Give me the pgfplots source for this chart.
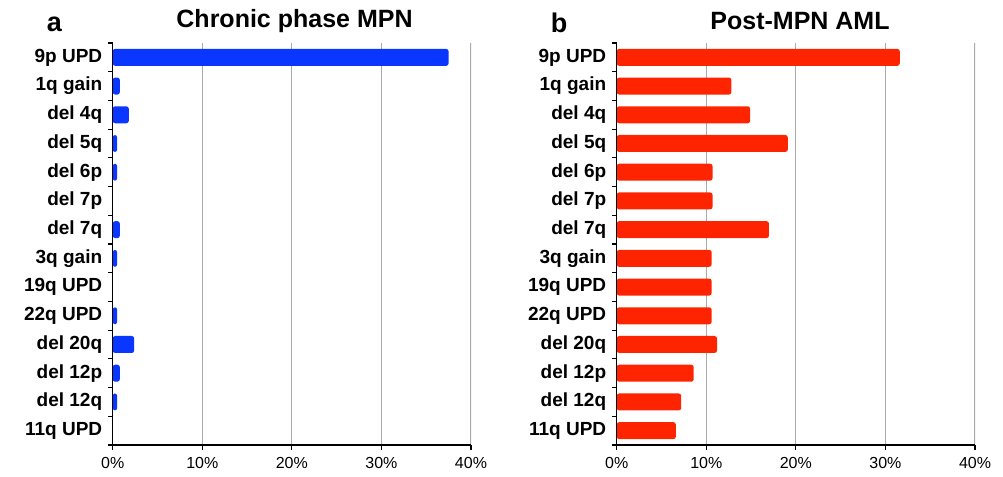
\documentclass[border=0pt]{standalone}
\usepackage{pgfplots}
\usepackage{pgfplotstable}
\pgfplotsset{compat=1.18}
\usepackage{fontspec}
\setmainfont{Liberation Sans}
\definecolor{barblue}{RGB}{10,55,255}
\definecolor{barred}{RGB}{255,36,0}
\definecolor{gridgray}{RGB}{170,170,170}

% idx 13 = top row (9p UPD) ... idx 0 = bottom row (11q UPD)
\pgfplotstableread{
idx cpm aml
13 37.5 31.6
12 0.8 12.8
11 1.8 14.9
10 0.5 19.1
9 0.5 10.7
8 0 10.7
7 0.8 17.0
6 0.5 10.6
5 0 10.6
4 0.5 10.6
3 2.4 11.2
2 0.8 8.6
1 0.5 7.2
0 0 6.6
}\datatable

\pgfplotsset{
  mpn/.style={
    anchor=south west,
    axis on top,
    scale only axis, width=358.3bp, height=402bp,
    xmin=0, xmax=40, ymin=-0.5, ymax=13.5,
    axis lines*=left,
    axis line style={-, black, line width=1.1bp},
    xtick={0,10,20,30,40},
    xticklabels={0\%,10\%,20\%,30\%,40\%},
    ytick={-0.5,0.5,...,13.5},
    yticklabels={},
    extra y ticks={0,...,13},
    extra y tick labels={11q UPD,del 12q,del 12p,del 20q,22q UPD,19q UPD,3q gain,del 7q,del 7p,del 6p,del 5q,del 4q,1q gain,9p UPD},
    extra y tick style={major tick length=0pt,
      yticklabel style={font=\fontsize{19bp}{21bp}\selectfont\bfseries, xshift=-7bp}},
    tick align=outside,
    major tick length=4.5bp,
    tick style={black, line width=1.1bp},
    grid=none,
    xticklabel style={font=\fontsize{16bp}{18bp}\selectfont, yshift=-4.5bp},
  }
}

\begin{document}
\begin{tikzpicture}
\path[use as bounding box] (0,0) rectangle (1003bp,477bp);
\begin{axis}[mpn, at={(112.7bp,32bp)}]
\pgfplotsinvokeforeach{10,20,30,40}{\draw[gridgray, line width=1.1bp] (axis cs:#1,-0.5) -- (axis cs:#1,13.5);}
\addplot[xbar, bar width=17bp, bar shift=0pt, draw=none, fill=barblue, rounded corners=2.5bp] table[x=cpm, y=idx] {\datatable};
\end{axis}
\begin{axis}[mpn, at={(616.7bp,32bp)}]
\pgfplotsinvokeforeach{10,20,30,40}{\draw[gridgray, line width=1.1bp] (axis cs:#1,-0.5) -- (axis cs:#1,13.5);}
\addplot[xbar, bar width=17bp, bar shift=0pt, draw=none, fill=barred, rounded corners=2.5bp] table[x=aml, y=idx] {\datatable};
\end{axis}
\node[font=\fontsize{25bp}{28bp}\selectfont\bfseries] at (294.5bp,456bp) {Chronic phase MPN};
\node[font=\fontsize{25bp}{28bp}\selectfont\bfseries] at (800bp,456bp) {Post-MPN AML};
\node[font=\fontsize{27bp}{30bp}\selectfont\bfseries] at (54.5bp,453bp) {a};
\node[font=\fontsize{27bp}{30bp}\selectfont\bfseries] at (559bp,454bp) {b};
\end{tikzpicture}
\end{document}
